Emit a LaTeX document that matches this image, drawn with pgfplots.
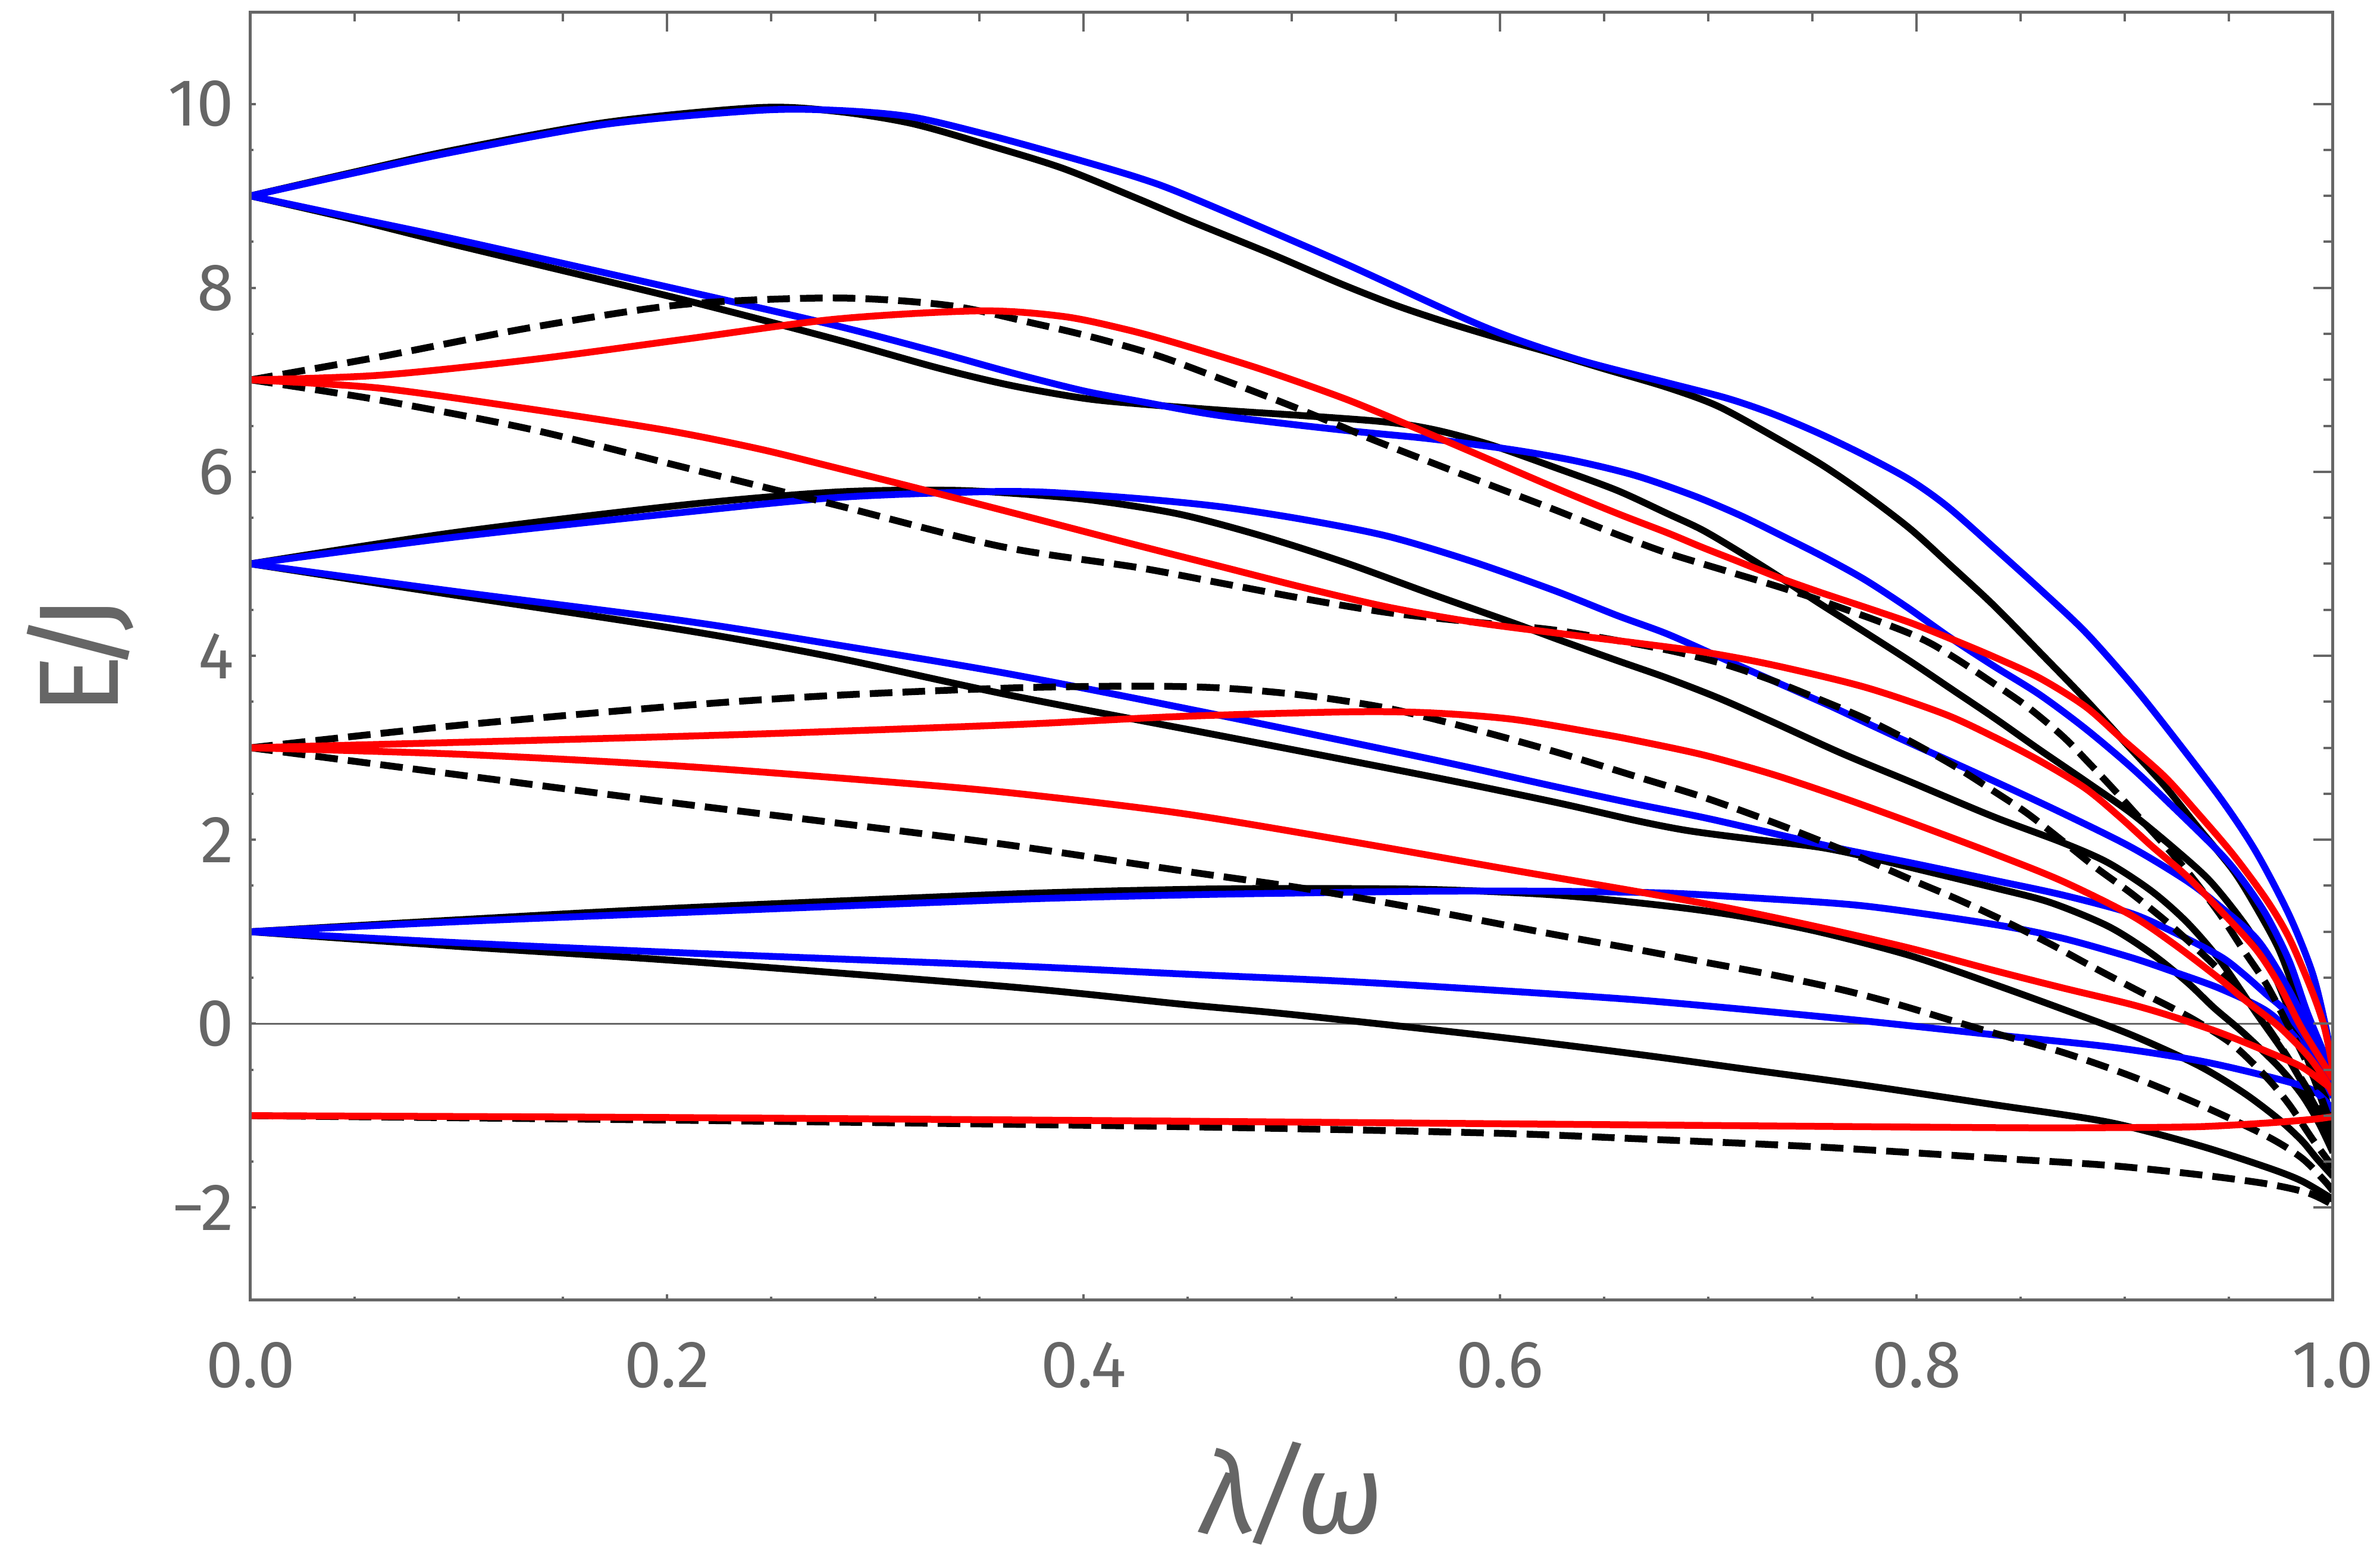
\documentclass[border=0pt]{standalone}
\usepackage{fontspec}
\setmainfont{Fira Sans}
\usepackage{pgfplots}
\pgfplotsset{compat=1.18}
\definecolor{fg}{RGB}{102,102,102}
\pgfplotsset{
  cb/.style={color={rgb,1:red,0;green,0;blue,1}, line width=1.15pt, smooth, tension=0.5},
  cr/.style={color={rgb,1:red,1;green,0;blue,0}, line width=1.15pt, smooth, tension=0.5},
  ck/.style={black, line width=1.15pt, smooth, tension=0.5},
  cd/.style={black, line width=1.15pt, smooth, tension=0.5, dash pattern=on 3.8pt off 1.7pt},
}
\begin{document}
\begin{tikzpicture}
\useasboundingbox (-42.1pt,-45pt) rectangle (357.9pt,218.4pt);
\begin{axis}[
  scale only axis, width=350pt, height=216.4pt,
  xmin=0, xmax=1, ymin=-3, ymax=11,
  axis line style={fg, line width=0.5pt},
  xtick={0,0.2,0.4,0.6,0.8,1}, xticklabels={0.0,0.2,0.4,0.6,0.8,1.0},
  ytick={-2,0,2,4,6,8,10}, yticklabels={−2,0,2,4,6,8,10},
  minor x tick num=3, minor y tick num=3,
  xtick pos=left, ytick pos=left,
  tick align=inside,
  major tick length=0.9pt, minor tick length=0.5pt,
  tick style={fg, line width=0.4pt},
  ticklabel style={font=\fontsize{11.2}{13}\selectfont, text=fg},
  xticklabel style={anchor=north, inner sep=0pt, yshift=-6.9pt},
  yticklabel style={anchor=east, inner sep=0pt, xshift=-2.6pt},
  xlabel={\textit{λ\kern-1.4pt/\kern-1.4ptω}},
  xlabel style={at={(axis description cs:0.5,-0.1816)}, anchor=base, inner sep=0pt, font=\fontsize{19}{22}\selectfont, text=fg},
  ylabel={E\kern-3pt/\kern-3pt J},
  ylabel style={at={(axis description cs:-0.0637,0.5)}, anchor=base, inner sep=0pt, font=\fontsize{19}{22}\selectfont, text=fg},
  clip=true,
]
\addplot[fg, line width=0.35pt] coordinates {(0,0) (1,0)};

% ---------- black solid ----------
\addplot[ck] coordinates {(0,9.0) (0.05,9.26) (0.098,9.50) (0.171,9.80) (0.244,9.96) (0.281,9.92) (0.317,9.79) (0.353,9.56) (0.39,9.30) (0.426,8.97) (0.451,8.73) (0.49,8.37) (0.524,8.04) (0.55,7.81) (0.575,7.62) (0.60,7.45) (0.625,7.29) (0.65,7.12) (0.68,6.92) (0.705,6.71) (0.734,6.35) (0.755,6.07) (0.775,5.76) (0.797,5.38) (0.816,4.99) (0.837,4.55) (0.860,4.02) (0.881,3.53) (0.900,3.06) (0.919,2.59) (0.935,2.14) (0.952,1.67) (0.963,1.27) (0.974,0.81) (0.982,0.32) (0.991,-0.35) (1.0,-1.1)};
\addplot[ck] coordinates {(0,9.0) (0.05,8.74) (0.098,8.47) (0.208,7.87) (0.281,7.44) (0.33,7.13) (0.365,6.94) (0.40,6.80) (0.426,6.74) (0.466,6.67) (0.506,6.61) (0.546,6.54) (0.57,6.45) (0.596,6.29) (0.626,6.05) (0.656,5.80) (0.680,5.55) (0.697,5.37) (0.715,5.13) (0.734,4.86) (0.752,4.59) (0.775,4.26) (0.797,3.94) (0.816,3.65) (0.837,3.33) (0.859,2.98) (0.881,2.64) (0.903,2.29) (0.924,1.90) (0.941,1.55) (0.957,1.10) (0.968,0.71) (0.976,0.31) (0.988,-0.4) (1.0,-1.2)};
\addplot[ck] coordinates {(0,5.0) (0.098,5.34) (0.208,5.64) (0.281,5.78) (0.335,5.80) (0.37,5.76) (0.405,5.69) (0.446,5.54) (0.486,5.30) (0.526,5.01) (0.566,4.68) (0.606,4.36) (0.630,4.16) (0.656,3.95) (0.680,3.76) (0.705,3.54) (0.731,3.28) (0.764,2.94) (0.797,2.63) (0.837,2.25) (0.870,1.97) (0.892,1.75) (0.913,1.44) (0.930,1.10) (0.946,0.68) (0.963,0.12) (0.979,-0.40) (0.992,-0.92) (1.0,-1.25)};
\addplot[ck] coordinates {(0,5.0) (0.098,4.66) (0.208,4.28) (0.281,3.98) (0.365,3.57) (0.466,3.13) (0.566,2.69) (0.626,2.41) (0.665,2.21) (0.69,2.10) (0.72,2.01) (0.753,1.92) (0.775,1.82) (0.797,1.70) (0.837,1.48) (0.864,1.32) (0.892,1.06) (0.913,0.76) (0.930,0.45) (0.943,0.17) (0.957,-0.10) (0.974,-0.47) (0.985,-0.77) (0.993,-1.07) (1.0,-1.4)};
\addplot[ck] coordinates {(0,1.0) (0.1,1.13) (0.208,1.26) (0.365,1.41) (0.448,1.46) (0.50,1.47) (0.566,1.46) (0.626,1.40) (0.680,1.28) (0.715,1.17) (0.753,1.00) (0.797,0.74) (0.837,0.43) (0.870,0.16) (0.903,-0.12) (0.935,-0.45) (0.957,-0.75) (0.974,-1.04) (0.985,-1.27) (0.992,-1.46) (1.0,-1.66)};
\addplot[ck] coordinates {(0,1.0) (0.1,0.84) (0.208,0.68) (0.365,0.40) (0.448,0.21) (0.50,0.10) (0.597,-0.14) (0.665,-0.33) (0.720,-0.50) (0.775,-0.67) (0.837,-0.88) (0.892,-1.07) (0.935,-1.32) (0.968,-1.56) (0.985,-1.71) (1.0,-1.91)};

% ---------- blue ----------
\addplot[cb] coordinates {(0,9.0) (0.05,9.25) (0.098,9.48) (0.171,9.78) (0.244,9.93) (0.281,9.93) (0.317,9.86) (0.353,9.67) (0.39,9.44) (0.426,9.20) (0.451,8.99) (0.524,8.28) (0.592,7.58) (0.636,7.23) (0.68,6.97) (0.709,6.80) (0.731,6.63) (0.753,6.42) (0.775,6.18) (0.797,5.91) (0.815,5.62) (0.837,5.18) (0.859,4.73) (0.881,4.26) (0.903,3.70) (0.919,3.25) (0.946,2.45) (0.963,1.87) (0.979,1.18) (0.990,0.56) (0.996,0.02) (1.0,-0.45)};
\addplot[cb] coordinates {(0,9.0) (0.05,8.76) (0.098,8.53) (0.208,7.97) (0.281,7.59) (0.33,7.30) (0.365,7.08) (0.40,6.88) (0.426,6.77) (0.466,6.61) (0.526,6.45) (0.566,6.36) (0.606,6.24) (0.636,6.12) (0.665,5.96) (0.693,5.74) (0.715,5.53) (0.734,5.32) (0.755,5.08) (0.775,4.83) (0.796,4.52) (0.816,4.20) (0.837,3.89) (0.859,3.58) (0.881,3.21) (0.903,2.79) (0.924,2.34) (0.946,1.85) (0.957,1.55) (0.968,1.18) (0.979,0.68) (0.988,0.1) (1.0,-0.55)};
\addplot[cb] coordinates {(0,5.0) (0.098,5.29) (0.208,5.56) (0.281,5.72) (0.345,5.78) (0.38,5.78) (0.426,5.71) (0.466,5.62) (0.506,5.48) (0.546,5.30) (0.586,5.03) (0.626,4.71) (0.656,4.44) (0.680,4.24) (0.705,3.99) (0.731,3.73) (0.758,3.46) (0.775,3.28) (0.797,3.05) (0.837,2.64) (0.870,2.29) (0.903,1.92) (0.930,1.55) (0.946,1.27) (0.963,0.93) (0.974,0.56) (0.985,0.1) (1.0,-0.62)};
\addplot[cb] coordinates {(0,5.0) (0.098,4.70) (0.208,4.38) (0.281,4.12) (0.365,3.80) (0.466,3.35) (0.566,2.88) (0.626,2.58) (0.665,2.39) (0.698,2.24) (0.731,2.07) (0.764,1.90) (0.797,1.75) (0.837,1.56) (0.870,1.40) (0.903,1.20) (0.924,0.99) (0.946,0.73) (0.957,0.54) (0.968,0.32) (0.977,0.14) (0.988,-0.2) (1.0,-0.72)};
\addplot[cb] coordinates {(0,1.0) (0.1,1.11) (0.208,1.21) (0.365,1.35) (0.448,1.40) (0.50,1.42) (0.566,1.44) (0.626,1.44) (0.680,1.42) (0.720,1.37) (0.775,1.28) (0.837,1.08) (0.870,0.93) (0.903,0.72) (0.924,0.56) (0.946,0.38) (0.968,0.14) (0.982,-0.15) (0.992,-0.45) (1.0,-0.80)};
\addplot[cb] coordinates {(0,1.0) (0.1,0.88) (0.208,0.77) (0.365,0.63) (0.448,0.54) (0.526,0.46) (0.600,0.36) (0.665,0.26) (0.720,0.15) (0.775,0.03) (0.837,-0.12) (0.892,-0.25) (0.935,-0.40) (0.968,-0.57) (0.990,-0.72) (1.0,-0.94)};

% ---------- black dashed ----------
\addplot[cd] coordinates {(0,7.0) (0.062,7.25) (0.135,7.57) (0.208,7.82) (0.281,7.89) (0.335,7.81) (0.377,7.61) (0.405,7.46) (0.436,7.26) (0.466,7.01) (0.496,6.75) (0.52,6.53) (0.540,6.34) (0.566,6.11) (0.596,5.85) (0.626,5.59) (0.656,5.32) (0.680,5.12) (0.709,4.92) (0.731,4.77) (0.749,4.64) (0.764,4.52) (0.780,4.39) (0.797,4.24) (0.808,4.12) (0.821,3.94) (0.837,3.70) (0.853,3.45) (0.870,3.13) (0.883,2.83) (0.895,2.54) (0.907,2.24) (0.920,1.92) (0.932,1.60) (0.946,1.18) (0.957,0.80) (0.968,0.43) (0.978,0.0) (0.99,-0.55) (1.0,-1.15)};
\addplot[cd] coordinates {(0,7.0) (0.062,6.78) (0.135,6.46) (0.208,6.05) (0.281,5.64) (0.36,5.19) (0.426,4.96) (0.466,4.79) (0.506,4.62) (0.546,4.47) (0.586,4.37) (0.626,4.28) (0.665,4.13) (0.687,4.03) (0.709,3.90) (0.731,3.73) (0.753,3.53) (0.775,3.32) (0.797,3.07) (0.819,2.79) (0.837,2.53) (0.853,2.29) (0.870,1.99) (0.886,1.70) (0.903,1.42) (0.919,1.13) (0.930,0.91) (0.941,0.68) (0.952,0.43) (0.963,0.14) (0.975,-0.25) (0.99,-0.8) (1.0,-1.3)};
\addplot[cd] coordinates {(0,3.0) (0.098,3.24) (0.208,3.46) (0.281,3.57) (0.365,3.65) (0.426,3.67) (0.466,3.65) (0.506,3.57) (0.546,3.43) (0.586,3.21) (0.626,2.96) (0.665,2.69) (0.698,2.46) (0.731,2.19) (0.758,1.95) (0.775,1.79) (0.797,1.57) (0.819,1.36) (0.841,1.13) (0.864,0.87) (0.886,0.60) (0.908,0.34) (0.922,0.18) (0.935,0.02) (0.952,-0.23) (0.968,-0.58) (0.979,-0.88) (0.990,-1.25) (1.0,-1.56)};
\addplot[cd] coordinates {(0,3.0) (0.095,2.72) (0.2,2.41) (0.3,2.13) (0.365,1.94) (0.448,1.66) (0.506,1.47) (0.566,1.23) (0.626,0.97) (0.665,0.81) (0.698,0.67) (0.731,0.53) (0.764,0.37) (0.791,0.21) (0.819,0.02) (0.837,-0.10) (0.870,-0.31) (0.903,-0.57) (0.935,-0.87) (0.968,-1.22) (0.985,-1.46) (0.996,-1.71) (1.0,-1.82)};
\addplot[cd] coordinates {(0,-1.0) (0.208,-1.05) (0.448,-1.12) (0.597,-1.19) (0.665,-1.25) (0.753,-1.34) (0.837,-1.46) (0.892,-1.54) (0.935,-1.64) (0.968,-1.74) (0.988,-1.84) (1.0,-1.97)};

% ---------- red ----------
\addplot[cr] coordinates {(0,7.0) (0.062,7.05) (0.135,7.22) (0.208,7.44) (0.281,7.66) (0.35,7.75) (0.39,7.69) (0.42,7.55) (0.446,7.39) (0.486,7.11) (0.526,6.79) (0.558,6.49) (0.586,6.22) (0.626,5.83) (0.656,5.55) (0.680,5.34) (0.697,5.18) (0.715,5.02) (0.735,4.84) (0.755,4.68) (0.775,4.53) (0.797,4.36) (0.817,4.18) (0.837,3.99) (0.859,3.76) (0.881,3.45) (0.898,3.11) (0.919,2.69) (0.935,2.29) (0.952,1.84) (0.968,1.35) (0.979,0.93) (0.990,0.35) (0.996,-0.05) (1.0,-0.5)};
\addplot[cr] coordinates {(0,7.0) (0.062,6.91) (0.135,6.68) (0.2,6.45) (0.244,6.25) (0.28,6.05) (0.317,5.84) (0.365,5.56) (0.426,5.20) (0.466,4.97) (0.506,4.74) (0.546,4.53) (0.586,4.37) (0.626,4.25) (0.665,4.14) (0.698,4.04) (0.731,3.90) (0.775,3.66) (0.813,3.37) (0.837,3.12) (0.859,2.86) (0.881,2.56) (0.898,2.24) (0.913,1.93) (0.930,1.60) (0.946,1.23) (0.963,0.81) (0.974,0.43) (0.985,-0.05) (1.0,-0.6)};
\addplot[cr] coordinates {(0,3.0) (0.135,3.08) (0.244,3.15) (0.365,3.25) (0.446,3.34) (0.526,3.39) (0.566,3.38) (0.606,3.31) (0.646,3.16) (0.665,3.08) (0.698,2.92) (0.731,2.71) (0.764,2.46) (0.797,2.19) (0.837,1.85) (0.870,1.55) (0.903,1.18) (0.924,0.86) (0.946,0.48) (0.957,0.27) (0.974,-0.03) (0.988,-0.35) (0.996,-0.60) (1.0,-0.77)};
\addplot[cr] coordinates {(0,3.0) (0.1,2.93) (0.2,2.81) (0.3,2.64) (0.365,2.51) (0.446,2.29) (0.526,1.99) (0.606,1.67) (0.665,1.44) (0.709,1.26) (0.753,1.05) (0.797,0.82) (0.837,0.58) (0.870,0.39) (0.903,0.21) (0.924,0.07) (0.946,-0.10) (0.968,-0.30) (0.985,-0.47) (0.996,-0.65) (1.0,-0.72)};
\addplot[cr] coordinates {(0,-1.0) (0.2,-1.02) (0.448,-1.06) (0.665,-1.10) (0.837,-1.13) (0.892,-1.13) (0.935,-1.12) (0.968,-1.08) (0.990,-1.04) (1.0,-1.01)};
\end{axis}
\begin{axis}[
  scale only axis, width=350pt, height=216.4pt,
  xmin=0, xmax=1, ymin=-3, ymax=11,
  axis line style={fg, line width=0.5pt},
  xtick={0,0.2,0.4,0.6,0.8,1}, ytick={-2,0,2,4,6,8,10},
  xticklabels={}, yticklabels={},
  minor x tick num=3, minor y tick num=3,
  xtick pos=right, ytick pos=right,
  tick align=inside,
  major tick length=3.3pt, minor tick length=1.6pt,
  tick style={fg, line width=0.4pt},
]
\end{axis}
\end{tikzpicture}
\end{document}
